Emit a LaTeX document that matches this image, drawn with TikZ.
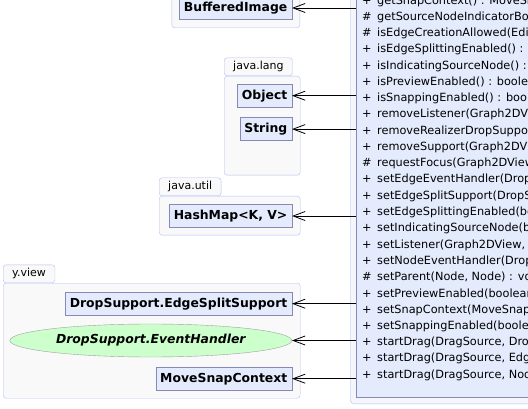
\documentclass[tikz,border=0pt]{standalone}
\usepackage{fontspec}
\setmainfont{DejaVu Sans}
\usetikzlibrary{arrows.meta,positioning,shapes.geometric}
\definecolor{PkgLine}{RGB}{178,190,248}
\definecolor{PkgFill}{RGB}{249,249,249}
\definecolor{FrameFill}{RGB}{244,246,252}
\definecolor{ClsFill}{RGB}{227,235,253}
\definecolor{ClsLine}{RGB}{136,136,184}
\definecolor{IfcFill}{RGB}{204,255,204}
\definecolor{IfcLine}{RGB}{160,160,160}

\tikzset{
  pkg/.style={draw=PkgLine,fill=PkgFill,rounded corners=3pt,inner sep=0pt},
  pkgtab/.style={draw=PkgLine,fill=PkgFill,rounded corners=3pt,anchor=south west,minimum height=18pt,inner xsep=9pt,inner ysep=0pt,font=\fontsize{11}{13}\selectfont},
  cls/.style={draw=ClsLine,fill=ClsFill,minimum height=23pt,inner xsep=4.5pt,inner ysep=0pt,font=\fontsize{12.4}{14}\selectfont\bfseries},
  ifc/.style={ellipse,draw=IfcLine,fill=IfcFill,minimum width=282pt,minimum height=33pt,inner sep=0pt,font=\fontsize{12.4}{14}\selectfont\bfseries\itshape},
  member/.style={anchor=west,inner sep=0pt,font=\fontsize{11.3}{12}\selectfont},
  dep/.style={-{Straight Barb[length=12pt,width=9pt]},line width=0.8pt}
}

\begin{document}
\begin{tikzpicture}[x=1pt,y=-1pt,node distance=10pt]
  \useasboundingbox (0,0) rectangle (528,409);
  \clip (0,0) rectangle (528,409);

  % class DropSupport
  \node[draw=PkgLine,fill=FrameFill,rounded corners=4pt,anchor=south west,minimum width=240pt,minimum height=450pt] (frame) at (350,404) {};
  \node[draw=ClsLine,fill=ClsFill,anchor=south west,minimum width=230pt,minimum height=440pt] (main) at (356,397) {};
  \foreach \v/\m [count=\i from 0] in {
      +/{getSnapContext() : MoveSnapContext},
      \#/{getSourceNodeIndicatorBounds(Graph2DView)},
      \#/{isEdgeCreationAllowed(EditMode)},
      +/{isEdgeSplittingEnabled() : boolean},
      +/{isIndicatingSourceNode() : boolean},
      +/{isPreviewEnabled() : boolean},
      +/{isSnappingEnabled() : boolean},
      +/{removeListener(Graph2DView)},
      +/{removeRealizerDropSupport(Graph2DView)},
      +/{removeSupport(Graph2DView)},
      \#/{requestFocus(Graph2DView)},
      +/{setEdgeEventHandler(DropSupport.EventHandler)},
      +/{setEdgeSplitSupport(DropSupport.EdgeSplitSupport)},
      +/{setEdgeSplittingEnabled(boolean)},
      +/{setIndicatingSourceNode(boolean)},
      +/{setListener(Graph2DView, HashMap)},
      +/{setNodeEventHandler(DropSupport.EventHandler)},
      \#/{setParent(Node, Node) : void},
      +/{setPreviewEnabled(boolean)},
      +/{setSnapContext(MoveSnapContext)},
      +/{setSnappingEnabled(boolean)},
      +/{startDrag(DragSource, DropTargetListener)},
      +/{startDrag(DragSource, EdgeRealizer)},
      +/{startDrag(DragSource, NodeRealizer)}}
    \node[member] (m\i) at (362,{1+16.26*\i}) {\makebox[15pt][l]{\v}\m};

  % java.awt.image (cut off)
  \node[pkg,anchor=south east,minimum width=128pt,minimum height=60pt] (awt) at (300,28) {};
  \node[cls,anchor=east] (buf) at (292,8) {BufferedImage};

  % java.lang
  \node[pkgtab] (langtab) at (224,76) {java.lang};
  \node[pkg,below right=0pt and 0pt of langtab.south west,minimum width=76pt,minimum height=99pt] (lang) {};
  \node[cls,anchor=north east] (obj) at (292,84) {Object};
  \node[cls,below left=10pt and 0pt of obj.south east] (str) {String};

  % java.util
  \node[pkgtab] (utiltab) at (159,196) {java.util};
  \node[pkg,below right=0pt and 0pt of utiltab.south west,minimum width=141pt,minimum height=39pt] (util) {};
  \node[cls,anchor=east] (map) at (292,216) {HashMap<K, V>};

  % y.view
  \node[pkgtab] (viewtab) at (3,283) {y.view};
  \node[pkg,below right=0pt and 0pt of viewtab.south west,minimum width=297pt,minimum height=115pt] (view) {};
  \node[cls,anchor=north east] (split) at (292,292) {DropSupport.EdgeSplitSupport};
  \node[ifc,anchor=east] (handler) at (292,340.5) {DropSupport.EventHandler};
  \node[cls,anchor=north east] (snap) at (292,367) {MoveSnapContext};

  \foreach \n in {buf,obj,str,map,split,handler,snap}
    \draw[dep] (\n.east -| main.west) -- (\n.east);
\end{tikzpicture}
\end{document}
